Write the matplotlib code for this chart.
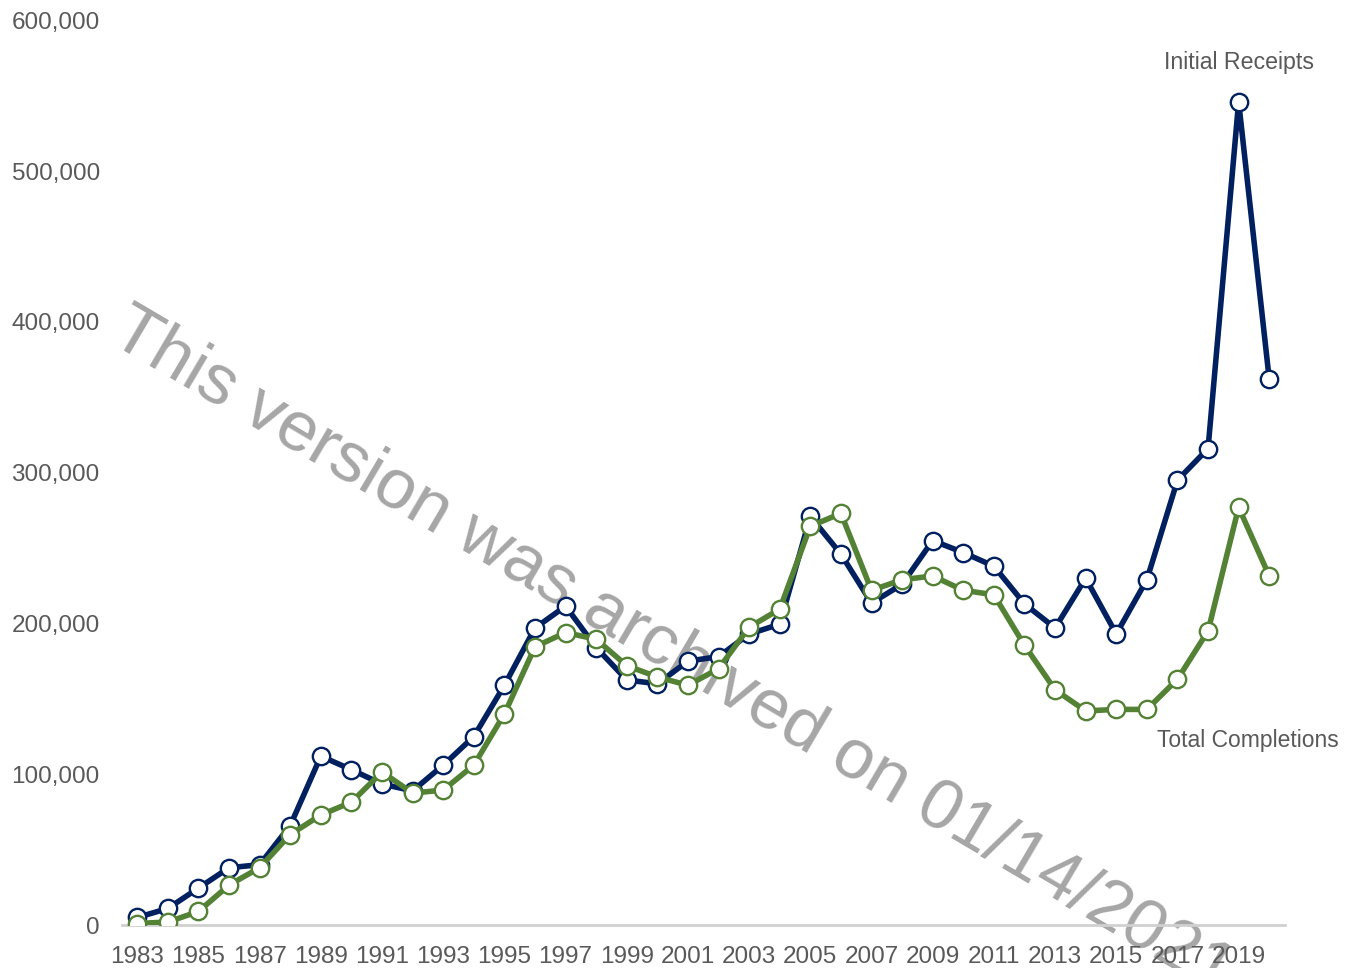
import matplotlib.pyplot as plt
from matplotlib.ticker import FuncFormatter

plt.rcParams['font.family'] = ['Liberation Sans', 'DejaVu Sans']

# data
years = list(range(1983, 2021))
initial_receipts = [5000, 11000, 24500, 38000, 40000, 66000, 112000, 103000, 93500, 89000,
                    106000, 125000, 159000, 197000, 211500, 184000, 162500, 160000, 175000, 178000,
                    193000, 199500, 271000, 246000, 213500, 226000, 255000, 247000, 238000, 213000,
                    197000, 230000, 193000, 229000, 295000, 316000, 546000, 362000]
total_completions = [1000, 2000, 9000, 26500, 38000, 60000, 73000, 81500, 101500, 87500,
                     89500, 106000, 140000, 184500, 194000, 189500, 172000, 164500, 159000, 170000,
                     197500, 209500, 264500, 273000, 222000, 229000, 231500, 222000, 219000, 185500,
                     156000, 142000, 143000, 143000, 163000, 195000, 277000, 231500]
tick_years = list(range(1983, 2021, 2))
y_ticks = [0, 100000, 200000, 300000, 400000, 500000, 600000]

navy = '#002060'
green = '#548235'
grey = '#595959'

fig = plt.figure(figsize=(13.51, 9.68), dpi=100)
ax = fig.add_axes([0.0903, 0.0444, 0.8605, 0.9346])

ax.plot(years, initial_receipts, color=navy, lw=4, marker='o', markersize=12.5,
        markerfacecolor='white', markeredgecolor=navy, markeredgewidth=1.7, zorder=3)
ax.plot(years, total_completions, color=green, lw=4, marker='o', markersize=12.5,
        markerfacecolor='white', markeredgecolor=green, markeredgewidth=1.7, zorder=4)

ax.text(2019, 572000, 'Initial Receipts', color=grey, fontsize=16.7, ha='center', va='center')
ax.text(2019.3, 122600, 'Total Completions', color=grey, fontsize=16.5, ha='center', va='center')

ax.set_xlim(1982.5, 2020.5)
ax.set_ylim(0, 600000)
ax.set_xticks(tick_years)
ax.set_yticks(y_ticks)
ax.yaxis.set_major_formatter(FuncFormatter(lambda v, p: f'{int(v):,}'))
ax.tick_params(axis='both', length=0, labelsize=17.5, labelcolor=grey)
ax.tick_params(axis='x', pad=15)
ax.tick_params(axis='y', pad=16)
for s in ['top', 'right', 'left']:
    ax.spines[s].set_visible(False)
ax.spines['bottom'].set_color('#d0d0d0')
ax.spines['bottom'].set_linewidth(2)

# archive watermark
ax.text(0.497, 0.326, 'This version was archived on 01/14/2021', transform=fig.transFigure,
        fontsize=51, color='#a6a6a6', rotation=-30.5, rotation_mode='anchor',
        ha='center', va='center', clip_on=False, zorder=1)

fig.savefig('out.png', dpi=100)
